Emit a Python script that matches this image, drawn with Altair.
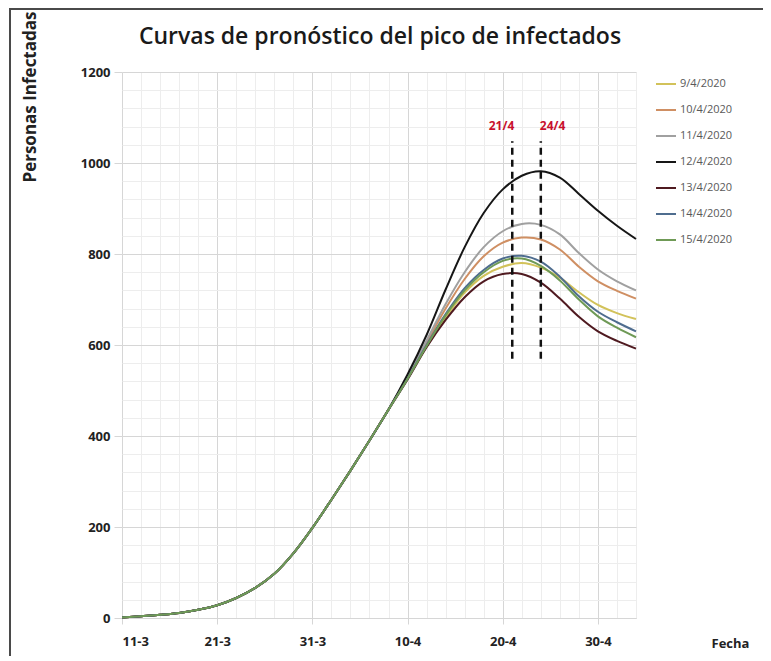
import altair as alt
import pandas as pd

# ---------------- data ----------------
fechas = ["2020-03-11", "2020-03-13", "2020-03-15", "2020-03-17", "2020-03-19",
          "2020-03-21", "2020-03-23", "2020-03-25", "2020-03-27", "2020-03-29",
          "2020-03-31", "2020-04-02", "2020-04-04", "2020-04-06", "2020-04-08",
          "2020-04-10", "2020-04-12", "2020-04-14", "2020-04-16", "2020-04-18",
          "2020-04-20", "2020-04-22", "2020-04-24", "2020-04-26", "2020-04-28",
          "2020-04-30", "2020-05-02", "2020-05-04"]

# shared rising part (11-3 .. 8-4), all forecasts overlap here
tramo_comun = [1, 4, 7, 11, 18, 28, 44, 66, 97, 142, 198, 260, 324, 390, 458]

# 10-4 .. 4-5 for each forecast
s_9_4 = [525, 597, 660, 715, 752, 772, 780, 770, 748, 716, 688, 670, 657]
s_10_4 = [528, 605, 680, 745, 795, 825, 836, 832, 810, 772, 740, 719, 702]
s_11_4 = [530, 610, 690, 760, 815, 850, 866, 864, 843, 802, 766, 740, 720]
s_12_4 = [535, 622, 722, 815, 890, 942, 972, 982, 968, 932, 895, 862, 833]
s_13_4 = [524, 595, 655, 705, 740, 756, 756, 737, 702, 662, 630, 609, 592]
s_14_4 = [526, 600, 668, 725, 765, 790, 796, 783, 750, 707, 673, 650, 630]
s_15_4 = [526, 598, 665, 720, 760, 785, 790, 774, 742, 700, 663, 638, 617]

series = ["9/4/2020", "10/4/2020", "11/4/2020", "12/4/2020",
          "13/4/2020", "14/4/2020", "15/4/2020"]
tramos = [s_9_4, s_10_4, s_11_4, s_12_4, s_13_4, s_14_4, s_15_4]
colores = ["#d2c25a", "#cf8f63", "#a0a0a0", "#161616",
           "#4f1a20", "#4f6d8f", "#6f9a56"]

marcas_fecha = ["2020-04-21", "2020-04-24"]
marcas_texto = ["21/4", "24/4"]
marca_desde = 570
marca_hasta = 1048
marca_texto_y = 1081

titulo = "Curvas de pronóstico del pico de infectados"

# ---------------- tables ----------------
rows = []
for nombre, tramo in zip(series, tramos):
    for f, v in zip(fechas, tramo_comun + tramo):
        rows.append({"fecha": f + "T00:00:00", "serie": nombre, "valor": v})
df = pd.DataFrame(rows)

df_marcas = pd.DataFrame({
    "fecha": [f + "T00:00:00" for f in marcas_fecha],
    "etiqueta": marcas_texto,
    "y0": [marca_desde] * 2,
    "y1": [marca_hasta] * 2,
    "yt": [marca_texto_y] * 2,
})

FONT = "Open Sans"


def dt(m, d):
    return alt.DateTime(year=2020, month=m, date=d)


xscale = alt.Scale(domain=[dt(3, 11), dt(5, 4)])
yscale = alt.Scale(domain=[0, 1200], nice=False, zero=True)

major_x = [dt(3, 11), dt(3, 21), dt(3, 31), dt(4, 10), dt(4, 20), dt(4, 30)]
minor_x = [dt(int(f[5:7]), int(f[8:10])) for f in fechas]
major_y = list(range(0, 1201, 200))
minor_y = list(range(0, 1201, 40))

# minor grid layer
minor = alt.Chart(df).mark_point(opacity=0).encode(
    x=alt.X("fecha:T", scale=xscale,
            axis=alt.Axis(orient="bottom", values=minor_x, grid=True,
                          gridColor="#ededed", gridWidth=1, labels=False,
                          ticks=False, domain=False, title=None)),
    y=alt.Y("valor:Q", scale=yscale,
            axis=alt.Axis(orient="left", values=minor_y, grid=True,
                          gridColor="#ededed", gridWidth=1, labels=False,
                          ticks=False, domain=False, title=None)),
)

lineas = alt.Chart(df).mark_line(interpolate="catmull-rom", strokeWidth=2).encode(
    x=alt.X("fecha:T", scale=xscale,
            axis=alt.Axis(orient="bottom", values=major_x, format="%-d-%-m",
                          grid=True, gridColor="#d6d6d6", ticks=True,
                          tickColor="#d6d6d6", tickSize=6, domain=True,
                          domainColor="#d6d6d6", labelFont=FONT,
                          labelFontSize=13, labelFontWeight="bold",
                          labelColor="#222222", labelPadding=11,
                          title="Fecha", titleX=608, titleY=25,
                          titleAlign="center", titleBaseline="middle",
                          titleFont=FONT, titleFontSize=13,
                          titleFontWeight="bold", titleColor="#222222")),
    y=alt.Y("valor:Q", scale=yscale,
            axis=alt.Axis(orient="left", values=major_y, format="d", grid=True,
                          gridColor="#d6d6d6", ticks=True, tickColor="#d6d6d6",
                          tickSize=8, domain=False, labelFont=FONT,
                          labelFontSize=13, labelFontWeight="bold",
                          labelColor="#222222", labelPadding=4,
                          title="Personas Infectadas", titleAngle=270,
                          titleX=-92, titleY=-61, titleAlign="right",
                          titleBaseline="middle", titleFont=FONT,
                          titleFontSize=17, titleFontWeight="bold",
                          titleColor="#222222")),
    color=alt.Color("serie:N", sort=series,
                    scale=alt.Scale(domain=series, range=colores),
                    legend=alt.Legend(orient="none", legendX=533, legendY=1,
                                      title=None, symbolType="stroke",
                                      symbolSize=400, symbolStrokeWidth=2,
                                      labelFont=FONT, labelFontSize=11,
                                      labelColor="#595959", labelOffset=3,
                                      rowPadding=10)),
    detail="serie:N",
)

reglas = alt.Chart(df_marcas).mark_rule(
    strokeDash=[7, 5], strokeWidth=2.5, color="#111111"
).encode(
    x=alt.X("fecha:T", scale=xscale, axis=None),
    y=alt.Y("y0:Q", scale=yscale, axis=None),
    y2="y1:Q",
)

txt_base = alt.Chart(df_marcas)
txt1 = txt_base.transform_filter(alt.datum.etiqueta == "21/4").mark_text(
    align="right", dx=2, font=FONT, fontSize=12, fontWeight="bold",
    color="#c8102e", baseline="middle"
).encode(x=alt.X("fecha:T", scale=xscale, axis=None),
         y=alt.Y("yt:Q", scale=yscale, axis=None), text="etiqueta:N")
txt2 = txt_base.transform_filter(alt.datum.etiqueta == "24/4").mark_text(
    align="left", dx=-1, font=FONT, fontSize=12, fontWeight="bold",
    color="#c8102e", baseline="middle"
).encode(x=alt.X("fecha:T", scale=xscale, axis=None),
         y=alt.Y("yt:Q", scale=yscale, axis=None), text="etiqueta:N")

tit = alt.Chart(pd.DataFrame({"t": [titulo]})).mark_text(
    font=FONT, fontSize=23, fontWeight=600, color="#1a1a1a",
    align="center", baseline="middle"
).encode(text="t:N", x=alt.value(258), y=alt.value(-35))

marco = alt.Chart(pd.DataFrame({"t": [0]})).mark_rect(
    filled=False, stroke="#4a4a4a", strokeWidth=2
).encode(x=alt.value(-112), x2=alt.value(700), y=alt.value(-63),
         y2=alt.value(700))

chart = alt.layer(minor, lineas, reglas, txt1, txt2, tit, marco).resolve_axis(
    x="independent", y="independent"
).properties(
    width=514, height=546,
    autosize=alt.AutoSizeParams(type="none"),
    padding={"left": 114, "top": 64, "right": 127, "bottom": 38},
    background="white",
).configure_view(strokeWidth=0)

chart.save("out.html", embed_options={"renderer": "svg", "actions": False})
